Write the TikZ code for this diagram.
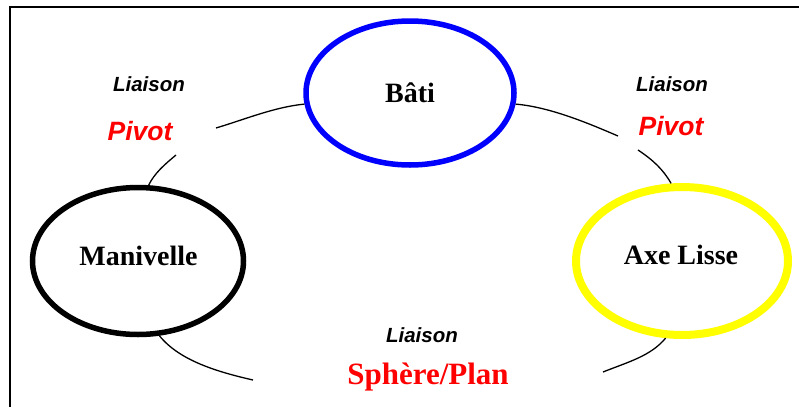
\documentclass[tikz,border=0pt]{standalone}
\usepackage{fontspec}
\setmainfont{Liberation Serif}
\newfontfamily\arialf{Liberation Sans}
\usetikzlibrary{shapes.geometric}
\definecolor{pblue}{RGB}{0,0,255}
\definecolor{pyellow}{RGB}{255,255,0}
\definecolor{pred}{RGB}{255,0,0}
\tikzset{
  part/.style={ellipse, draw, inner sep=0pt},
  parttext/.style={anchor=base, font=\bfseries\fontsize{28}{30}\selectfont},
  liaisontext/.style={anchor=base, font=\arialf\bfseries\itshape\fontsize{20.5}{22}\selectfont},
  pivottext/.style={anchor=base, text=pred, font=\arialf\bfseries\itshape\fontsize{26.5}{28}\selectfont},
  spheretext/.style={anchor=base, text=pred, font=\bfseries\fontsize{31}{33}\selectfont},
  link/.style={line width=1.3pt},
  frame/.style={line width=1.5pt}
}
\begin{document}
\begin{tikzpicture}[x=1pt,y=-1pt]
\useasboundingbox (0,0) rectangle (799,407);
% frame
\coordinate (ftr) at (799,7);
\coordinate (ftl) at (10,7);
\coordinate (fbl) at (10,407);
\draw[frame] (ftr) -- (ftl) -- (fbl);
% parts
\node[part, draw=pblue, line width=5.5pt, minimum width=208pt, minimum height=144pt] (bati) at (410,93) {};
\node[part, draw=black, line width=5.5pt, minimum width=211pt, minimum height=147pt] (man) at (138,261) {};
\node[part, draw=pyellow, line width=8pt, minimum width=212pt, minimum height=148pt] (axe) at (682,261) {};
\node[parttext] (tbati) at (410,102) {Bâti};
\node[parttext] (tman) at (138.5,265) {Manivelle};
\node[parttext] (taxe) at (681,264) {Axe Lisse};
% labels
\node[liaisontext] (l1) at (149,91) {Liaison};
\node[pivottext] (pv1) at (140,140) {Pivot};
\node[liaisontext] (l2) at (672,91) {Liaison};
\node[pivottext] (pv2) at (671,135) {Pivot};
\node[liaisontext] (l3) at (422,342) {Liaison};
\node[spheretext] (sp) at (428,384) {Sphère/Plan};
% free ends of connectors
\coordinate (p1) at (216,128);
\coordinate (p2) at (176,155);
\coordinate (p3) at (618,136);
\coordinate (p4) at (638,150);
\coordinate (p5) at (253,380);
\coordinate (p6) at (603,372);
% connectors
\draw[link] (bati.186) .. controls +(-30,3) and +(30,-9) .. (p1);
\draw[link] (p2) .. controls +(-12,10) and +(6,-12) .. (man.82);
\draw[link] (bati.354) .. controls +(35,3) and +(-28,-12) .. (p3);
\draw[link] (p4) .. controls +(15,10) and +(-8,-14) .. (axe.98);
\draw[link] (man.286) .. controls +(20,25) and +(-35,-8) .. (p5);
\draw[link] (axe.258) .. controls +(-15,18) and +(25,-10) .. (p6);
\end{tikzpicture}
\end{document}
